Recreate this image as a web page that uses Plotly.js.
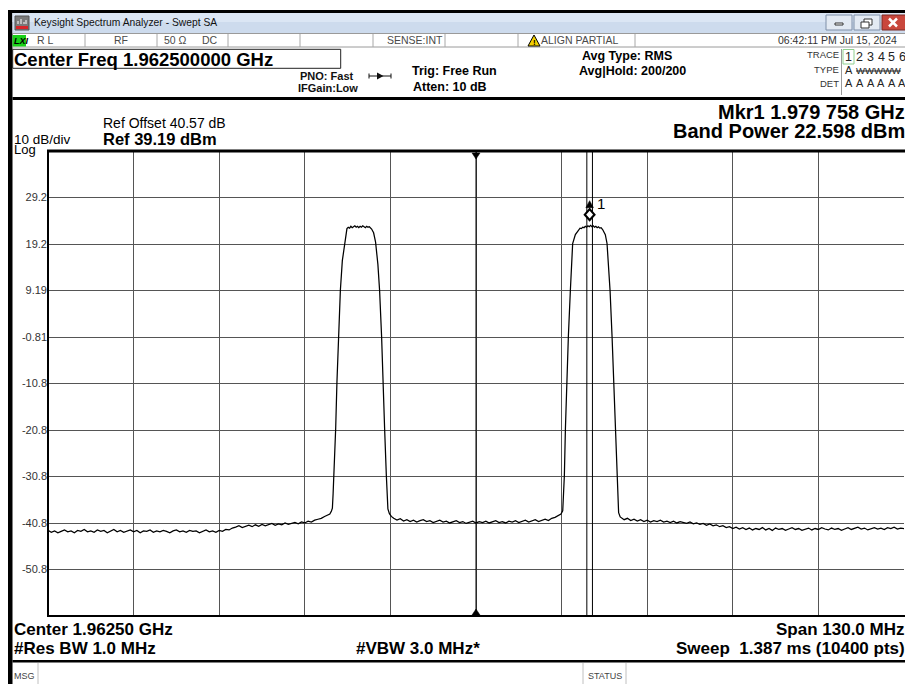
<!DOCTYPE html>
<html><head><meta charset="utf-8">
<script src="https://cdn.plot.ly/plotly-3.0.1.min.js"></script>
<style>html,body{margin:0;padding:0;background:#fff;} #chart{width:905px;height:684px;}</style>
</head><body><div id="chart"></div>
<script>
// ---------------- DATA ----------------
const centerFreqMHz = 1962.5;
const spanMHz = 130;
const refLevelDbm = 39.19;
const dbPerDiv = 10;
const gridFreqMHz = [1910.5, 1923.5, 1936.5, 1949.5, 1962.5, 1975.5, 1988.5, 2001.5, 2014.5];
const yTickVals = [29.19, 19.19, 9.19, -0.81, -10.81, -20.81, -30.81, -40.81, -50.81];
const yTickText = ['29.2', '19.2', '9.19', '-0.81', '-10.8', '-20.8', '-30.8', '-40.8', '-50.8'];
const markerFreqMHz = 1979.758;
const bandPowerDbm = 22.598;
const bandSpanMHz = 0.85;

// trace (MHz / dBm)
const floorLeftFreq = [1897.5,1898,1898.5,1899,1899.5,1900,1900.5,1901,1901.5,1902,1902.5,1903,1903.5,1904,1904.5,1905,1905.5,1906,1906.5,1907,1907.5,1908,1908.5,1909,1909.5,1910,1910.5,1911,1911.5,1912,1912.5,1913,1913.5,1914,1914.5,1915,1915.5,1916,1916.5,1917,1917.5,1918,1918.5,1919,1919.5,1920,1920.5,1921,1921.5,1922,1922.5,1923,1923.5,1924,1924.5,1925,1925.5,1926,1926.5,1927,1927.5,1928,1928.5,1929,1929.5,1930,1930.5,1931,1931.5,1932,1932.5,1933,1933.5,1934,1934.5,1935,1935.5,1936,1936.5,1937,1937.5,1938,1938.5,1939,1939.5,1940];
const floorLeftLevel = [-42.4,-42.8,-42.5,-42.9,-42.6,-42.3,-42.7,-42.5,-42.9,-42.4,
-42.6,-42.2,-42.7,-42.5,-42.8,-42.3,-42.6,-42.4,-42.9,-42.5,
-42.2,-42.7,-42.4,-42.8,-42.5,-42.3,-42.7,-42.4,-42.9,-42.5,
-42.6,-42.3,-42.8,-42.5,-42.7,-42.4,-42.6,-42.9,-42.5,-42.3,
-42.7,-42.5,-42.8,-42.4,-42.6,-42.5,-42.9,-42.6,-42.3,-42.7,
-42.5,-42.8,-42.4,-42.6,-42.2,-42.3,-41.9,-41.7,-41.4,-41.8,
-41.5,-41.3,-41.6,-41.2,-41.5,-41.1,-41.4,-41.2,-40.9,-41.3,
-41.0,-41.2,-40.8,-41.1,-40.9,-40.7,-41.0,-40.6,-40.8,-40.4,
-40.6,-40.2,-40.0,-39.8,-39.4,-39.1];

const carrier1Freq = [1940.3,1940.53,1940.69,1940.8,1940.93,1941.19,1941.38,1941.6,1941.9,1942.2,1942.55,1942.7,1942.9,1943.1,1943.3,1943.5,1943.7,1943.9,1944.1,1944.3,1944.5,1944.7,1944.9,1945.1,1945.3,1945.5,1945.7,1945.9,1946.1,1946.3,1946.5,1946.65,1946.95,1947.25,1947.6,1947.86,1948.16,1948.36,1948.62,1948.88,1949.0,1949.12,1949.35,1949.64,1950.0];
const carrier1Level = [-38.9,-38.3,-37.6,-34.5,-30.5,-20.5,-10.6,-0.6,9.2,15.6,19.6,21.5,22.5,22.8,22.6,23.0,22.7,22.9,23.1,22.8,23.0,22.7,23.0,22.8,23.1,22.9,22.7,23.0,22.8,22.9,22.6,22.4,21.6,19.6,14.8,9.2,-0.6,-10.6,-20.5,-30.5,-34.8,-37.8,-38.8,-39.4,-39.8];

const floorMidFreq = [1950.5,1951,1951.5,1952,1952.5,1953,1953.5,1954,1954.5,1955,1955.5,1956,1956.5,1957,1957.5,1958,1958.5,1959,1959.5,1960,1960.5,1961,1961.5,1962,1962.5,1963,1963.5,1964,1964.5,1965,1965.5,1966,1966.5,1967,1967.5,1968,1968.5,1969,1969.5,1970,1970.5,1971,1971.5,1972,1972.5,1973,1973.5,1974,1974.5,1975,1975.4];
const floorMidLevel = [-40.2,-39.9,-40.4,-40.1,-40.5,-40.2,-40.6,-40.3,-40.1,-40.5,
-40.3,-40.7,-40.4,-40.2,-40.6,-40.4,-40.8,-40.5,-40.3,-40.7,
-40.5,-40.9,-40.6,-40.4,-40.8,-40.5,-40.7,-40.4,-40.8,-40.6,
-40.3,-40.7,-40.5,-40.8,-40.4,-40.6,-40.3,-40.7,-40.5,-40.2,
-40.6,-40.4,-40.1,-40.5,-40.2,-40.0,-40.3,-39.8,-39.6,-39.3,
-38.9];

const carrier2Freq = [1975.67,1975.8,1975.92,1976.08,1976.27,1976.53,1976.83,1977.18,1977.59,1978.09,1978.3,1978.5,1978.7,1978.9,1979.1,1979.3,1979.5,1979.7,1979.9,1980.1,1980.3,1980.5,1980.7,1980.9,1981.1,1981.3,1981.5,1981.73,1982.14,1982.4,1982.86,1983.16,1983.4,1983.66,1983.92,1984.04,1984.16,1984.4,1984.7];
const carrier2Level = [-38.2,-35.0,-30.6,-20.5,-10.5,-0.6,9.2,19.3,21.2,22.3,22.6,22.5,22.8,22.7,23.0,22.8,23.1,22.9,23.2,22.9,23.1,22.8,23.0,22.7,22.9,22.6,22.7,22.3,21.2,19.3,9.2,-0.6,-10.5,-20.5,-30.6,-35.2,-38.6,-39.5,-39.8];

const floorRightFreq = [1985,1985.5,1986,1986.5,1987,1987.5,1988,1988.5,1989,1989.5,1990,1990.5,1991,1991.5,1992,1992.5,1993,1993.5,1994,1994.5,1995,1995.5,1996,1996.5,1997,1997.5,1998,1998.5,1999,1999.5,2000,2000.5,2001,2001.5,2002,2002.5,2003,2003.5,2004,2004.5,2005,2005.5,2006,2006.5,2007,2007.5,2008,2008.5,2009,2009.5,2010,2010.5,2011,2011.5,2012,2012.5,2013,2013.5,2014,2014.5,2015,2015.5,2016,2016.5,2017,2017.5,2018,2018.5,2019,2019.5,2020,2020.5,2021,2021.5,2022,2022.5,2023,2023.5,2024,2024.5,2025,2025.5,2026,2026.5,2027,2027.5];
const floorRightLevel = [-40.1,-39.8,-40.3,-40.0,-40.4,-40.1,-40.5,-40.2,-40.6,-40.3,
-40.5,-40.2,-40.6,-40.4,-40.7,-40.4,-40.8,-40.5,-40.7,-40.9,
-40.6,-41.0,-40.8,-41.1,-40.9,-41.3,-41.0,-41.4,-41.2,-41.6,
-41.4,-41.8,-41.6,-42.0,-41.7,-42.1,-41.8,-42.2,-41.9,-42.3,
-42.0,-42.2,-41.8,-42.3,-42.0,-42.4,-41.9,-42.2,-42.0,-42.4,
-42.1,-41.8,-42.2,-42.0,-42.4,-42.1,-41.9,-42.3,-42.0,-42.2,
-41.8,-42.1,-42.3,-41.9,-42.2,-42.0,-42.4,-42.1,-41.8,-42.2,
-42.0,-41.7,-42.1,-41.9,-42.3,-42.0,-41.8,-42.1,-41.9,-42.2,
-41.8,-42.0,-41.7,-42.1,-41.9,-42.0];

// texts
const windowTitle = 'Keysight Spectrum Analyzer - Swept SA';
const statusItems = ['R L', 'RF', '50 Ω', 'DC', 'SENSE:INT', 'ALIGN PARTIAL', '06:42:11 PM Jul 15, 2024'];
const centerFreqText = 'Center Freq 1.962500000 GHz';
const refOffsetText = 'Ref Offset 40.57 dB';
const refText = 'Ref 39.19 dBm';
const scaleText = '10 dB/div';
const mkrText = 'Mkr1 1.979 758 GHz';
const bandPowerText = 'Band Power 22.598 dBm';
const bottomLeft = ['Center 1.96250 GHz', '#Res BW 1.0 MHz'];
const vbwText = '#VBW 3.0 MHz*';
const bottomRight = ['Span 130.0 MHz', 'Sweep\u00a0 1.387 ms (10400 pts)'];
const traceNumbers = ['1', '2', '3', '4', '5', '6'];
const traceDet = ['A', 'A', 'A', 'A', 'A', 'A'];

// ---------------- BUILD ----------------
const traceFreq = [].concat(floorLeftFreq, carrier1Freq, floorMidFreq, carrier2Freq, floorRightFreq);
const traceLevel = [].concat(floorLeftLevel, carrier1Level, floorMidLevel, carrier2Level, floorRightLevel);

const W = 905, H = 684, ML = 48, MR = 1, MT = 151, MB = 68;
const PW = W - ML - MR, PH = H - MT - MB;
const X = px => (px - ML) / PW;
const Y = py => (H - MB - py) / PH;
const FONT = 'Liberation Sans, Arial, sans-serif';

function rect(x0, y0, x1, y1, fill, lc, lw) {
  return {type: 'rect', xref: 'paper', yref: 'paper', x0: X(x0), x1: X(x1), y0: Y(y1), y1: Y(y0),
    fillcolor: fill || 'rgba(0,0,0,0)', line: {color: lc || 'rgba(0,0,0,0)', width: lw || 0}, layer: 'above'};
}
function seg(x0, y0, x1, y1, c, w) {
  return {type: 'line', xref: 'paper', yref: 'paper', x0: X(x0), x1: X(x1), y0: Y(y0), y1: Y(y1),
    line: {color: c, width: w}, layer: 'above'};
}
function poly(pts, fill, lc, lw) {
  return {type: 'path', xref: 'paper', yref: 'paper',
    path: 'M ' + pts.map(p => X(p[0]) + ' ' + Y(p[1])).join(' L ') + ' Z',
    fillcolor: fill, line: {color: lc || fill, width: lw || 0}, layer: 'above'};
}
function txt(text, px, py, size, opts) {
  const o = Object.assign({bold: false, color: '#000', anchor: 'left', family: FONT}, opts || {});
  return {text: o.bold ? '<b>' + text + '</b>' : text, xref: 'paper', yref: 'paper', x: X(px), y: Y(py),
    showarrow: false, xanchor: o.anchor, yanchor: 'middle', borderpad: 0, borderwidth: 0,
    font: {family: o.family, size: size, color: o.color}};
}

const shapes = [];
const annotations = [];

// window frame & title bar
shapes.push(rect(8, 10, 905, 13, '#000'));
shapes.push(rect(8, 10, 12.5, 684, '#000'));
shapes.push(rect(12.5, 13, 905, 33, '#cddbed'));
shapes.push(rect(12.5, 13, 905, 22, '#dbe6f4'));
shapes.push(rect(15, 16, 29, 30, '#7a7a7a', '#555', 1));
shapes.push(rect(16, 26, 28, 29, '#d8262a'));
shapes.push(seg(18, 24, 18, 21, '#fff', 1));
shapes.push(seg(21, 24, 21, 19, '#fff', 1));
shapes.push(seg(24, 24, 24, 22, '#fff', 1));
shapes.push(seg(26, 24, 26, 20, '#fff', 1));
annotations.push(txt(windowTitle, 34, 23, 10.3, {color: '#111'}));
// window buttons
shapes.push(rect(826, 15, 852, 30, '#e3eaf3', '#7f8fa8', 1));
shapes.push(rect(835, 23, 843, 25, '#fff', '#333', 1));
shapes.push(rect(854, 15, 880, 30, '#e3eaf3', '#7f8fa8', 1));
shapes.push(rect(864, 19, 872, 25, '#fff', '#333', 1));
shapes.push(rect(861, 22, 869, 28, '#fff', '#333', 1));
shapes.push(rect(882, 15, 906, 30, '#c9473c', '#7b2a24', 1));
shapes.push(seg(889, 18.5, 897, 26.5, '#fff', 2.5));
shapes.push(seg(897, 18.5, 889, 26.5, '#fff', 2.5));

// status row
shapes.push(seg(12.5, 33.5, 905, 33.5, '#9a9a9a', 1));
shapes.push(seg(12.5, 47, 905, 47, '#9a9a9a', 1));
[85, 157, 228, 300, 373, 445, 518, 635].forEach(x => shapes.push(seg(x, 34, x, 47, '#a8a8a8', 1)));
shapes.push(rect(12.5, 35, 26, 46.5, '#19d119'));
annotations.push(txt('<i>LXI</i>', 13.5, 40.5, 9, {bold: true, color: '#000'}));
const stCol = '#4a4a4a';
annotations.push(txt(statusItems[0], 45, 40, 10.5, {anchor: 'center', color: stCol}));
annotations.push(txt(statusItems[1], 121, 40, 10.5, {anchor: 'center', color: stCol}));
annotations.push(txt(statusItems[2], 175, 40, 10.5, {anchor: 'center', color: stCol}));
annotations.push(txt(statusItems[3], 210, 40, 10.5, {anchor: 'center', color: stCol}));
annotations.push(txt(statusItems[4], 443, 40, 10.5, {anchor: 'right', color: stCol}));
shapes.push(poly([[528, 46], [540, 46], [534, 35]], '#f2cf00', '#000', 1));
annotations.push(txt('<b>!</b>', 534, 42.3, 8, {anchor: 'center', color: '#000'}));
annotations.push(txt(statusItems[5], 541, 40, 10.5, {color: stCol}));
annotations.push(txt(statusItems[6], 897, 40, 10.5, {anchor: 'right', color: '#333'}));

// settings block
shapes.push(rect(12.7, 49.3, 340.7, 68.3, null, '#222', 1));
annotations.push(txt(centerFreqText, 14, 59.5, 18.5, {bold: true}));
annotations.push(txt('PNO: Fast', 327, 76, 11, {bold: true, anchor: 'center', color: '#111'}));
annotations.push(txt('IFGain:Low', 328, 88.5, 11, {bold: true, anchor: 'center', color: '#111'}));
shapes.push(seg(369, 76, 391, 76, '#111', 1));
shapes.push(poly([[377, 72.5], [377, 79.5], [383.5, 76]], '#111'));
shapes.push(seg(369, 73.5, 369, 78.5, '#111', 1));
shapes.push(seg(391, 73.5, 391, 78.5, '#111', 1));
annotations.push(txt('Trig: Free Run', 412, 70.5, 12.5, {bold: true}));
annotations.push(txt('Atten: 10 dB', 413, 86.5, 12.5, {bold: true}));
annotations.push(txt('Avg Type: RMS', 627, 55.5, 12.5, {bold: true, anchor: 'center'}));
annotations.push(txt('Avg|Hold: 200/200', 632, 70.5, 12.5, {bold: true, anchor: 'center'}));
annotations.push(txt('TRACE', 839, 54.5, 9.5, {anchor: 'right', color: '#333'}));
annotations.push(txt('TYPE', 839, 69.5, 9.5, {anchor: 'right', color: '#333'}));
annotations.push(txt('DET', 839, 83.5, 9.5, {anchor: 'right', color: '#333'}));
shapes.push(seg(841.5, 49, 841.5, 95, '#9a9a9a', 1));
shapes.push(rect(843, 49.5, 854, 64, null, '#8fd08f', 1));
const traceColX = [848.5, 859.5, 870.5, 881, 891.5, 902];
traceNumbers.forEach((t, i) => annotations.push(txt(t, traceColX[i], 57.5, 12.5, {anchor: 'center', color: '#222'})));
traceDet.forEach((t, i) => annotations.push(txt(t, traceColX[i], 83.5, 11, {anchor: 'center', color: '#222'})));
annotations.push(txt('A', traceColX[0], 70, 11, {anchor: 'center', color: '#222'}));
annotations.push(txt('<s>WWWWW</s>', 855.5, 70, 9.5, {color: '#222'}));
shapes.push(rect(12.5, 97, 905, 100, '#000'));

// annotation block above graticule
annotations.push(txt(refOffsetText, 103, 122.5, 14));
annotations.push(txt(refText, 103, 138.5, 16.5, {bold: true}));
annotations.push(txt(scaleText, 14, 139.5, 13.5));
annotations.push(txt('Log', 14, 150, 13));
annotations.push(txt(mkrText, 905, 111.5, 20, {bold: true, anchor: 'right'}));
annotations.push(txt(bandPowerText, 905, 131, 20, {bold: true, anchor: 'right'}));

// graticule frame
shapes.push(seg(48, 151, 48, 616.5, '#000', 2));
shapes.push(seg(47, 616, 905, 616, '#000', 2));
shapes.push(rect(47, 149.5, 905, 152.5, '#000'));

// centre line & triangles
shapes.push({type: 'line', xref: 'x', yref: 'paper', x0: centerFreqMHz, x1: centerFreqMHz, y0: 0, y1: 1,
  line: {color: '#000', width: 1}, layer: 'above'});
shapes.push({type: 'path', xref: 'x', yref: 'paper', xsizemode: 'pixel', ysizemode: 'pixel',
  xanchor: centerFreqMHz, yanchor: 1, path: 'M -4 -2 L 4 -2 L 0 -8 Z', fillcolor: '#000', line: {color: '#000', width: 0.5}, layer: 'above'});
shapes.push({type: 'path', xref: 'x', yref: 'paper', xsizemode: 'pixel', ysizemode: 'pixel',
  xanchor: centerFreqMHz, yanchor: 0, path: 'M -4 1 L 4 1 L 0 7 Z', fillcolor: '#000', line: {color: '#000', width: 0.5}, layer: 'above'});

// band power span lines & marker
[markerFreqMHz - bandSpanMHz / 2, markerFreqMHz + bandSpanMHz / 2].forEach(f => shapes.push({
  type: 'line', xref: 'x', yref: 'paper', x0: f, x1: f, y0: 0, y1: 1, line: {color: '#000', width: 1}, layer: 'above'}));
shapes.push({type: 'path', xref: 'x', yref: 'y', xsizemode: 'pixel', ysizemode: 'pixel',
  xanchor: markerFreqMHz, yanchor: bandPowerDbm, path: 'M 0 8 L 4.8 13.5 L 0 19 L -4.8 13.5 Z',
  fillcolor: '#fff', line: {color: '#000', width: 2.2}, layer: 'above'});
shapes.push({type: 'path', xref: 'x', yref: 'y', xsizemode: 'pixel', ysizemode: 'pixel',
  xanchor: markerFreqMHz, yanchor: bandPowerDbm, path: 'M -3.8 20.5 L 3.8 20.5 L 0 27.5 Z',
  fillcolor: '#000', line: {color: '#000', width: 0.5}, layer: 'above'});
annotations.push({text: '1', xref: 'x', yref: 'y', x: markerFreqMHz, y: bandPowerDbm, xshift: 11.5, yshift: 25,
  showarrow: false, xanchor: 'center', yanchor: 'middle', font: {family: FONT, size: 15, color: '#000'}});

// bottom info
annotations.push(txt(bottomLeft[0], 14, 629.5, 17, {bold: true}));
annotations.push(txt(bottomLeft[1], 14, 648, 17, {bold: true}));
annotations.push(txt(vbwText, 418, 648, 17, {bold: true, anchor: 'center'}));
annotations.push(txt(bottomRight[0], 905, 629.5, 17, {bold: true, anchor: 'right'}));
annotations.push(txt(bottomRight[1], 905, 648, 17, {bold: true, anchor: 'right'}));
shapes.push(rect(12.5, 660, 905, 662.5, '#000'));
shapes.push(seg(38, 663, 38, 684, '#c0c0c0', 1));
shapes.push(seg(583, 663, 583, 684, '#c0c0c0', 1));
shapes.push(seg(626, 663, 626, 684, '#c0c0c0', 1));
annotations.push(txt('MSG', 13.5, 676, 9, {color: '#444'}));
annotations.push(txt('STATUS', 604.5, 676, 9, {anchor: 'center', color: '#444'}));

const data = [{
  type: 'scatter', mode: 'lines', x: traceFreq, y: traceLevel,
  line: {color: '#000', width: 1.25}, hoverinfo: 'skip'
}];

const layout = {
  width: W, height: H,
  margin: {l: ML, r: MR, t: MT, b: MB, pad: 0},
  paper_bgcolor: '#fff', plot_bgcolor: '#fff',
  showlegend: false,
  xaxis: {range: [centerFreqMHz - spanMHz / 2, centerFreqMHz + spanMHz / 2], tickmode: 'array', tickvals: gridFreqMHz,
    showticklabels: false, ticks: '', showgrid: true, gridcolor: '#555', gridwidth: 1, zeroline: false, showline: false, fixedrange: true},
  yaxis: {range: [refLevelDbm - 10 * dbPerDiv, refLevelDbm], tickmode: 'array', tickvals: yTickVals, ticktext: yTickText,
    ticks: '', showgrid: true, gridcolor: '#555', gridwidth: 1, zeroline: false, showline: false, fixedrange: true,
    tickfont: {family: FONT, size: 11, color: '#333'}},
  shapes: shapes,
  annotations: annotations
};

Plotly.newPlot('chart', data, layout, {staticPlot: true, displayModeBar: false});
</script>
</body></html>
